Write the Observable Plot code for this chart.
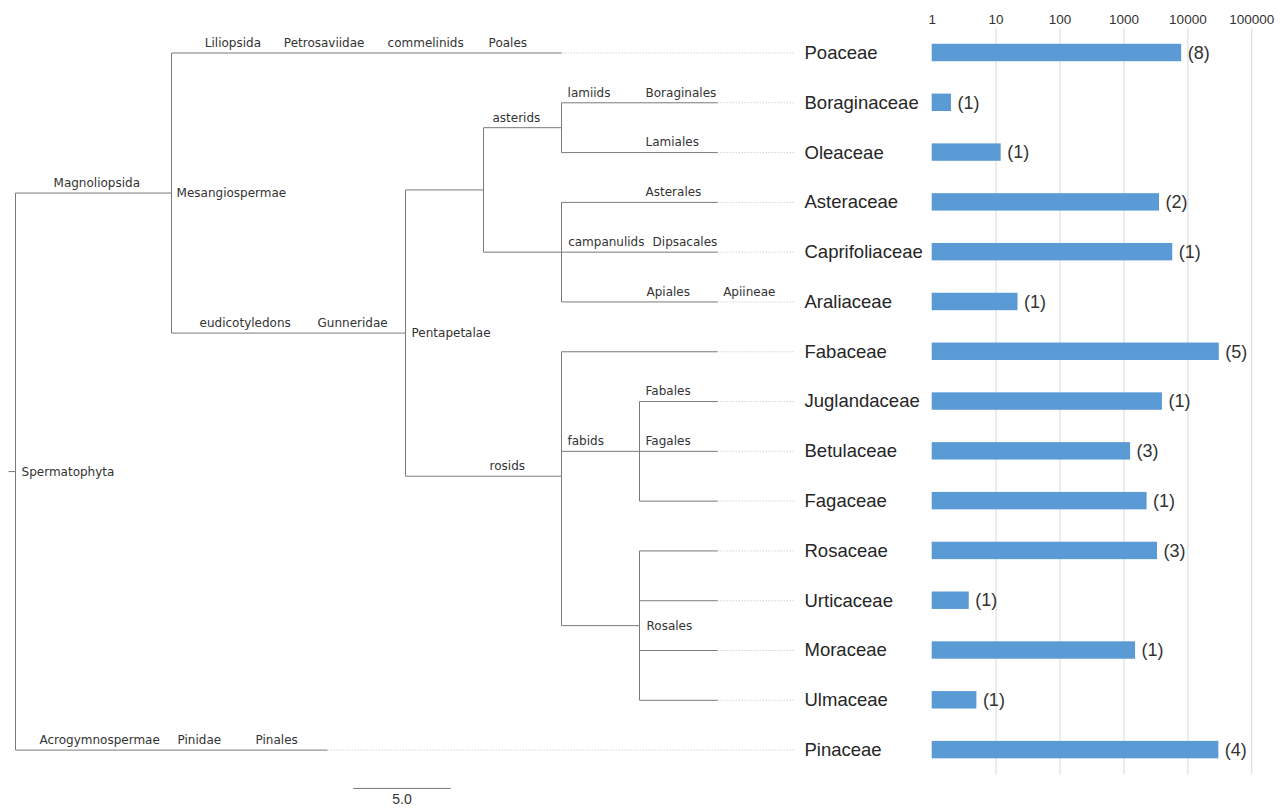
<!DOCTYPE html>
<html><head><meta charset="utf-8">
<script src="https://cdn.jsdelivr.net/npm/d3@7"></script>
<script src="https://cdn.jsdelivr.net/npm/@observablehq/plot@0.6"></script>
<style>
html,body{margin:0;padding:0;background:#fff;}
#chart{position:relative;width:1288px;height:808px;}
#chart svg{position:absolute;left:0;top:0;}
</style></head><body><div id="chart"></div>
<script>
// ---- data ----
const families = ["Poaceae","Boraginaceae","Oleaceae","Asteraceae","Caprifoliaceae","Araliaceae","Fabaceae","Juglandaceae","Betulaceae","Fagaceae","Rosaceae","Urticaceae","Moraceae","Ulmaceae","Pinaceae"];
const barValues = [8000, 2, 12, 3600, 5800, 22, 31000, 4000, 1270, 2300, 3350, 3.8, 1520, 5, 30500];
const counts = [8, 1, 1, 2, 1, 1, 5, 1, 3, 1, 3, 1, 1, 1, 4];
const axisTicks = [1, 10, 100, 1000, 10000, 100000];
const gridTicks = [10, 100, 1000, 10000, 100000];

// tree nodes: [name, parent, depth (branch length from root)]
const treeNodes = [
  ["Spermatophyta", null, 0],
  ["Mesangiospermae", "Spermatophyta", 8],
  ["Poaceae", "Mesangiospermae", 28],
  ["Pentapetalae", "Mesangiospermae", 20],
  ["asterids", "Pentapetalae", 24],
  ["lamiids", "asterids", 28],
  ["Boraginaceae", "lamiids", 36],
  ["Oleaceae", "lamiids", 36],
  ["campanulids", "asterids", 28],
  ["Asteraceae", "campanulids", 36],
  ["Caprifoliaceae", "campanulids", 36],
  ["Araliaceae", "campanulids", 36],
  ["rosids", "Pentapetalae", 28],
  ["Fabaceae", "rosids", 36],
  ["Fagales", "rosids", 32],
  ["Juglandaceae", "Fagales", 36],
  ["Betulaceae", "Fagales", 36],
  ["Fagaceae", "Fagales", 36],
  ["Rosales", "rosids", 32],
  ["Rosaceae", "Rosales", 36],
  ["Urticaceae", "Rosales", 36],
  ["Moraceae", "Rosales", 36],
  ["Ulmaceae", "Rosales", 36],
  ["Pinaceae", "Spermatophyta", 16]
];

// clade labels: [text, node whose branch it sits on, depth, placement]
const cladeLabels = [
  ["Spermatophyta", "Spermatophyta", 0.31, "right"],
  ["Magnoliopsida", "Mesangiospermae", 1.95, "above"],
  ["Mesangiospermae", "Mesangiospermae", 8.26, "right"],
  ["Liliopsida", "Poaceae", 9.71, "above"],
  ["Petrosaviidae", "Poaceae", 13.76, "above"],
  ["commelinids", "Poaceae", 19.08, "above"],
  ["Poales", "Poaceae", 24.26, "above"],
  ["eudicotyledons", "Pentapetalae", 9.44, "above"],
  ["Gunneridae", "Pentapetalae", 15.49, "above"],
  ["Pentapetalae", "Pentapetalae", 20.31, "right"],
  ["asterids", "lamiids", 24.46, "above"],
  ["lamiids", "Boraginaceae", 28.31, "above"],
  ["Boraginales", "Boraginaceae", 32.31, "above"],
  ["Lamiales", "Oleaceae", 32.31, "above"],
  ["Asterales", "Asteraceae", 32.31, "above"],
  ["campanulids", "Caprifoliaceae", 28.34, "above"],
  ["Dipsacales", "Caprifoliaceae", 32.67, "above"],
  ["Apiales", "Araliaceae", 32.36, "above"],
  ["Apiineae", "Araliaceae", 36.29, "above"],
  ["rosids", "rosids", 24.31, "above"],
  ["fabids", "Fagales", 28.31, "above"],
  ["Fabales", "Juglandaceae", 32.31, "above"],
  ["Fagales", "Betulaceae", 32.31, "above"],
  ["Rosales", "Rosales", 32.36, "right"],
  ["Acrogymnospermae", "Pinaceae", 1.23, "above"],
  ["Pinidae", "Pinaceae", 8.31, "above"],
  ["Pinales", "Pinaceae", 12.31, "above"]
];
const scaleBarLength = 5.0;
const leaderEnd = 40;

// ---- build tree layout ----
const nodes = new Map(treeNodes.map(([name, parent, depth]) => [name, {name, parent, depth, children: []}]));
for (const n of nodes.values()) if (n.parent) nodes.get(n.parent).children.push(n);
function layoutY(n) {
  if (n.children.length === 0) { n.y = families.indexOf(n.name); return n.y; }
  n.y = d3.mean(n.children.map(layoutY));
  return n.y;
}
const root = nodes.get("Spermatophyta");
layoutY(root);
const links = [...nodes.values()].filter(n => n.parent).map(n => {
  const p = nodes.get(n.parent);
  return {x1: p.depth, y1: p.y, x2: n.depth, y2: n.y};
});
const leaves = [...nodes.values()].filter(n => n.children.length === 0);
const labelRows = cladeLabels.map(([text, node, depth, place]) => ({text, y: nodes.get(node).y, x: depth, place}));

const W = 1288, H = 808;
const pxPerUnit = 19.5, rootPx = 15;
const mTop = 27.6, mBottom = 33.5;

const tree = Plot.plot({
  width: W, height: H,
  marginLeft: 0, marginRight: 0, marginTop: mTop, marginBottom: mBottom,
  x: {type: "linear", domain: [-rootPx / pxPerUnit, (W - rootPx) / pxPerUnit], axis: null},
  y: {type: "linear", domain: [-0.5, families.length - 0.5], reverse: true, axis: null},
  style: {background: "white", fontFamily: "DejaVu Sans, sans-serif"},
  marks: [
    Plot.link(leaves, {x1: "depth", x2: leaderEnd, y1: "y", y2: "y", stroke: "#d4d4d4", strokeWidth: 1, strokeDasharray: "1.5,1.5"}),
    Plot.link(links, {x1: "x1", y1: "y1", x2: "x2", y2: "y2", curve: "step-before", stroke: "#7a7a7a", strokeWidth: 1}),
    Plot.link([root], {x1: -0.36, x2: "depth", y1: "y", y2: "y", stroke: "#7a7a7a", strokeWidth: 1}),
    Plot.text(labelRows.filter(d => d.place === "above"), {x: "x", y: "y", text: "text", textAnchor: "start", dy: -10, fontSize: 12, fill: "#333"}),
    Plot.text(labelRows.filter(d => d.place === "right"), {x: "x", y: "y", text: "text", textAnchor: "start", dy: 0.5, fontSize: 12, fill: "#333"}),
    Plot.text(leaves, {x: leaderEnd, y: "y", text: "name", textAnchor: "start", dx: 9, fontSize: 18.5, fontFamily: "Liberation Sans, Arial, sans-serif", fill: "#262626"}),
    // scale bar
    Plot.link([scaleBarLength], {x1: 17.32, x2: d => 17.32 + d, y1: 14.77, y2: 14.77, stroke: "#7a7a7a", strokeWidth: 1}),
    Plot.text([scaleBarLength], {x: d => 17.32 + d / 2, y: 14.77, text: d => d.toFixed(1), dy: 11, fontSize: 14, fontFamily: "Liberation Sans, Arial, sans-serif", fill: "#333"})
  ]
});

const barData = families.map((f, i) => ({family: f, value: barValues[i], count: counts[i]}));
const bars = Plot.plot({
  width: W, height: H,
  marginLeft: 931.7, marginRight: 36.7, marginTop: mTop, marginBottom: mBottom,
  x: {type: "log", domain: [1, 100000]},
  y: {type: "band", domain: families, paddingInner: 0.65, paddingOuter: 0.325, round: false, axis: null},
  style: {background: "transparent", fontFamily: "Liberation Sans, Arial, sans-serif"},
  marks: [
    Plot.gridX(gridTicks, {stroke: "#d9d9d9", strokeOpacity: 1}),
    Plot.axisX(axisTicks, {anchor: "top", tickSize: 0, tickPadding: 4, tickFormat: d => String(d), fontSize: 13.5, fill: "#333", label: null}),
    Plot.barX(barData, {x1: 1, x2: "value", y: "family", fill: "#5b9bd5"}),
    Plot.text(barData, {x: "value", y: "family", text: d => `(${d.count})`, dx: 6, textAnchor: "start", fontSize: 18, fill: "#333"})
  ]
});

const el = document.getElementById("chart");
el.appendChild(tree);
el.appendChild(bars);
</script></body></html>
